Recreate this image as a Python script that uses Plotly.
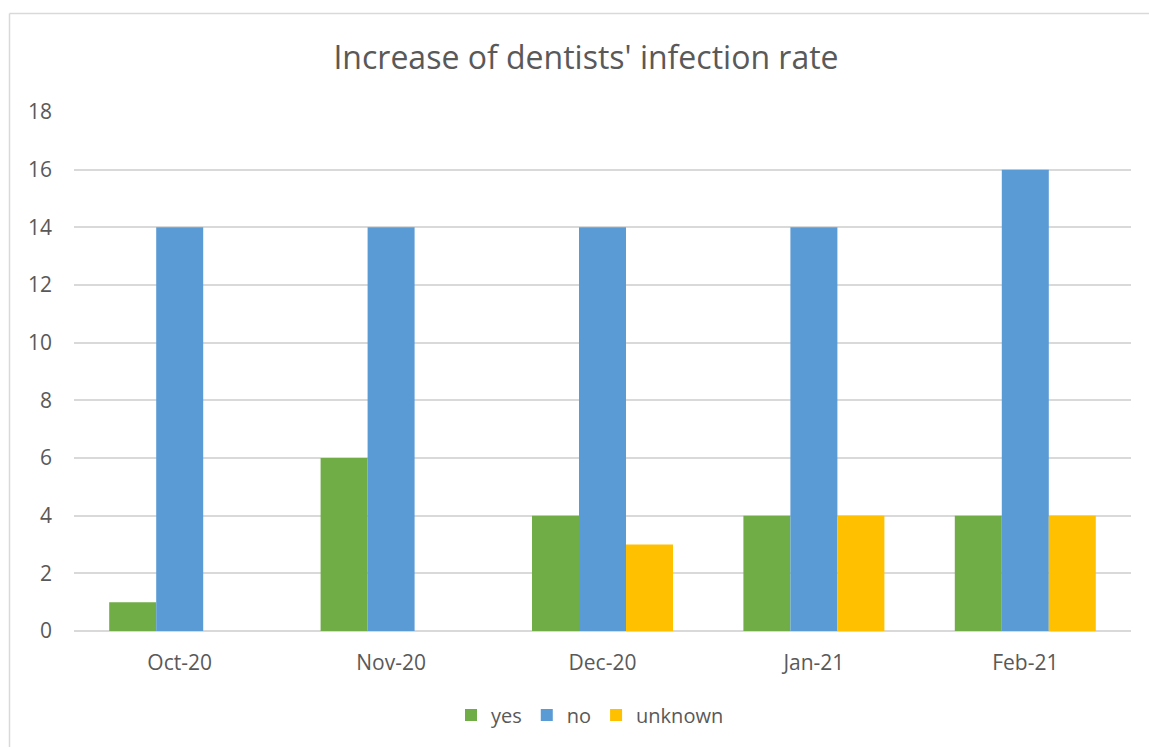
import plotly.graph_objects as go

categories = ["Oct-20", "Nov-20", "Dec-20", "Jan-21", "Feb-21"]
yes_vals = [1, 6, 4, 4, 4]
no_vals = [14, 14, 14, 14, 16]
unknown_vals = [0, 0, 3, 4, 4]
y_ticks = [0, 2, 4, 6, 8, 10, 12, 14, 16, 18]

W, H = 1149, 747
L, R, T, B = 74, 1131, 112, 631
pw, ph = R - L, B - T

FONT = "Open Sans"
TXT = "#595959"

fig = go.Figure()
fig.add_trace(go.Bar(name="yes", x=categories, y=yes_vals, marker=dict(color="#70AD47", line=dict(width=0))))
fig.add_trace(go.Bar(name="no", x=categories, y=no_vals, marker=dict(color="#5B9BD5", line=dict(width=0))))
fig.add_trace(go.Bar(name="unknown", x=categories, y=unknown_vals, marker=dict(color="#FFC000", line=dict(width=0))))

def px_to_paper_x(px):
    return (px - L) / pw

def px_to_paper_y(py):
    return (B - py) / ph

fig.update_layout(
    width=W, height=H,
    margin=dict(l=L, r=W - R, t=T, b=H - B, pad=0, autoexpand=False),
    paper_bgcolor="white", plot_bgcolor="white",
    barmode="group", bargap=0.333, bargroupgap=0,
    font=dict(family=FONT, color=TXT, size=21),
    title=dict(text="Increase of dentists' infection rate", x=586 / W, xanchor="center",
               y=1 - 58 / H, yanchor="middle", xref="container", yref="container",
               font=dict(family=FONT, size=32, color=TXT)),
    xaxis=dict(showgrid=False, showline=False, ticks="", tickfont=dict(size=21, color=TXT),
               ticklabelstandoff=17, automargin=False),
    yaxis=dict(range=[0, 18], tickvals=y_ticks, showgrid=True, gridcolor="#D9D9D9", gridwidth=1.5,
               zeroline=True, zerolinecolor="#D9D9D9", zerolinewidth=1.5, showline=False, ticks="",
               tickfont=dict(size=21, color=TXT), ticklabelstandoff=21, automargin=False),
    legend=dict(orientation="h", x=590 / W, xref="container", xanchor="center",
                y=px_to_paper_y(715), yanchor="middle", font=dict(size=20, color=TXT),
                itemwidth=30, traceorder="normal"),
    showlegend=True,
    shapes=[
        dict(type="line", xref="paper", yref="paper", x0=px_to_paper_x(9.5), x1=px_to_paper_x(W),
             y0=px_to_paper_y(13.5), y1=px_to_paper_y(13.5), line=dict(color="#D9D9D9", width=1.5)),
        dict(type="line", xref="paper", yref="paper", x0=px_to_paper_x(9.5), x1=px_to_paper_x(9.5),
             y0=px_to_paper_y(13.5), y1=px_to_paper_y(H), line=dict(color="#D9D9D9", width=1.5)),
    ],
)

fig.write_html(
    "out.html",
    config={"displayModeBar": False},
    post_script="document.body.style.margin='0';document.body.style.overflow='hidden';",
)
